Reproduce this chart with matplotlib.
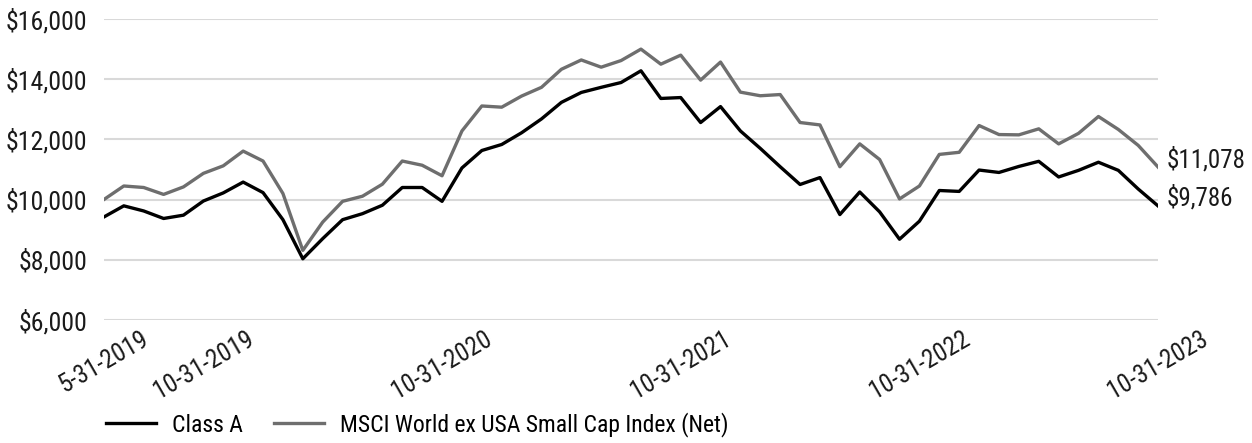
import matplotlib
matplotlib.use("Agg")
import matplotlib.pyplot as plt
from matplotlib import font_manager
from matplotlib.ticker import FuncFormatter

names = {f.name for f in font_manager.fontManager.ttflist}
font = "Roboto"
for cand in ["Roboto Condensed", "Liberation Sans Narrow"]:
    if cand in names:
        font = cand
        break
plt.rcParams['font.family'] = [font, 'DejaVu Sans']

# monthly values, 5-31-2019 .. 10-31-2023
class_a = [9420, 9790, 9620, 9370, 9480, 9950, 10220, 10580, 10230, 9330,
           8030, 8700, 9330, 9530, 9810, 10400, 10400, 9940, 11050, 11630,
           11830, 12220, 12680, 13230, 13560, 13730, 13890, 14280, 13360, 13390,
           12560, 13090, 12280, 11700, 11090, 10500, 10730, 9500, 10250, 9590,
           8680, 9280, 10300, 10270, 10980, 10900, 11100, 11270, 10750, 10970,
           11240, 10970, 10350, 9786]
msci = [10000, 10450, 10400, 10170, 10420, 10870, 11120, 11610, 11280, 10200,
        8310, 9250, 9940, 10110, 10510, 11280, 11140, 10790, 12280, 13110,
        13070, 13440, 13730, 14330, 14640, 14400, 14620, 15000, 14500, 14800,
        13970, 14570, 13570, 13450, 13490, 12560, 12480, 11090, 11850, 11330,
        10020, 10450, 11500, 11570, 12460, 12160, 12150, 12350, 11850, 12200,
        12760, 12330, 11800, 11078]
tick_idx = [0, 5, 17, 29, 41, 53]
tick_labels = ["5-31-2019", "10-31-2019", "10-31-2020", "10-31-2021", "10-31-2022", "10-31-2023"]
series_names = ["Class A", "MSCI World ex USA Small Cap Index (Net)"]

x = list(range(len(class_a)))

fig = plt.figure(figsize=(12.52, 4.43), dpi=100)
ax = fig.add_axes([0.083, 0.278, 0.842, 0.679])

ax.plot(x, class_a, color="#000000", lw=2.4, label=series_names[0], zorder=3)
ax.plot(x, msci, color="#6e6e6e", lw=2.4, label=series_names[1], zorder=2)

ax.set_xlim(0, len(x) - 1)
ax.set_ylim(6000, 16000)
ax.set_yticks(range(6000, 16001, 2000))
ax.yaxis.set_major_formatter(FuncFormatter(lambda v, p: f"${v:,.0f}"))
ax.set_xticks(tick_idx)
ax.set_xticklabels(tick_labels, rotation=30, ha="center")
ax.tick_params(axis="both", length=0, labelsize=18.5, colors="#1a1a1a")
ax.tick_params(axis="x", pad=5, labelsize=18)
ax.tick_params(axis="y", pad=12)
ax.grid(axis="y", color="#d9d9d9", lw=1.5)
ax.set_axisbelow(True)
for s in ax.spines.values():
    s.set_visible(False)

for vals in (class_a, msci):
    ax.annotate(f"${vals[-1]:,}", (x[-1], vals[-1]), xytext=(6, 0),
                textcoords="offset points", va="baseline", ha="left",
                fontsize=18, color="#1a1a1a", annotation_clip=False)

fig.legend(loc="lower left", bbox_to_anchor=(0.068, -0.035), ncol=2, frameon=False,
           fontsize=17, handlelength=2.1, columnspacing=1.3, handletextpad=0.7)

fig.savefig("out.png", dpi=100)
